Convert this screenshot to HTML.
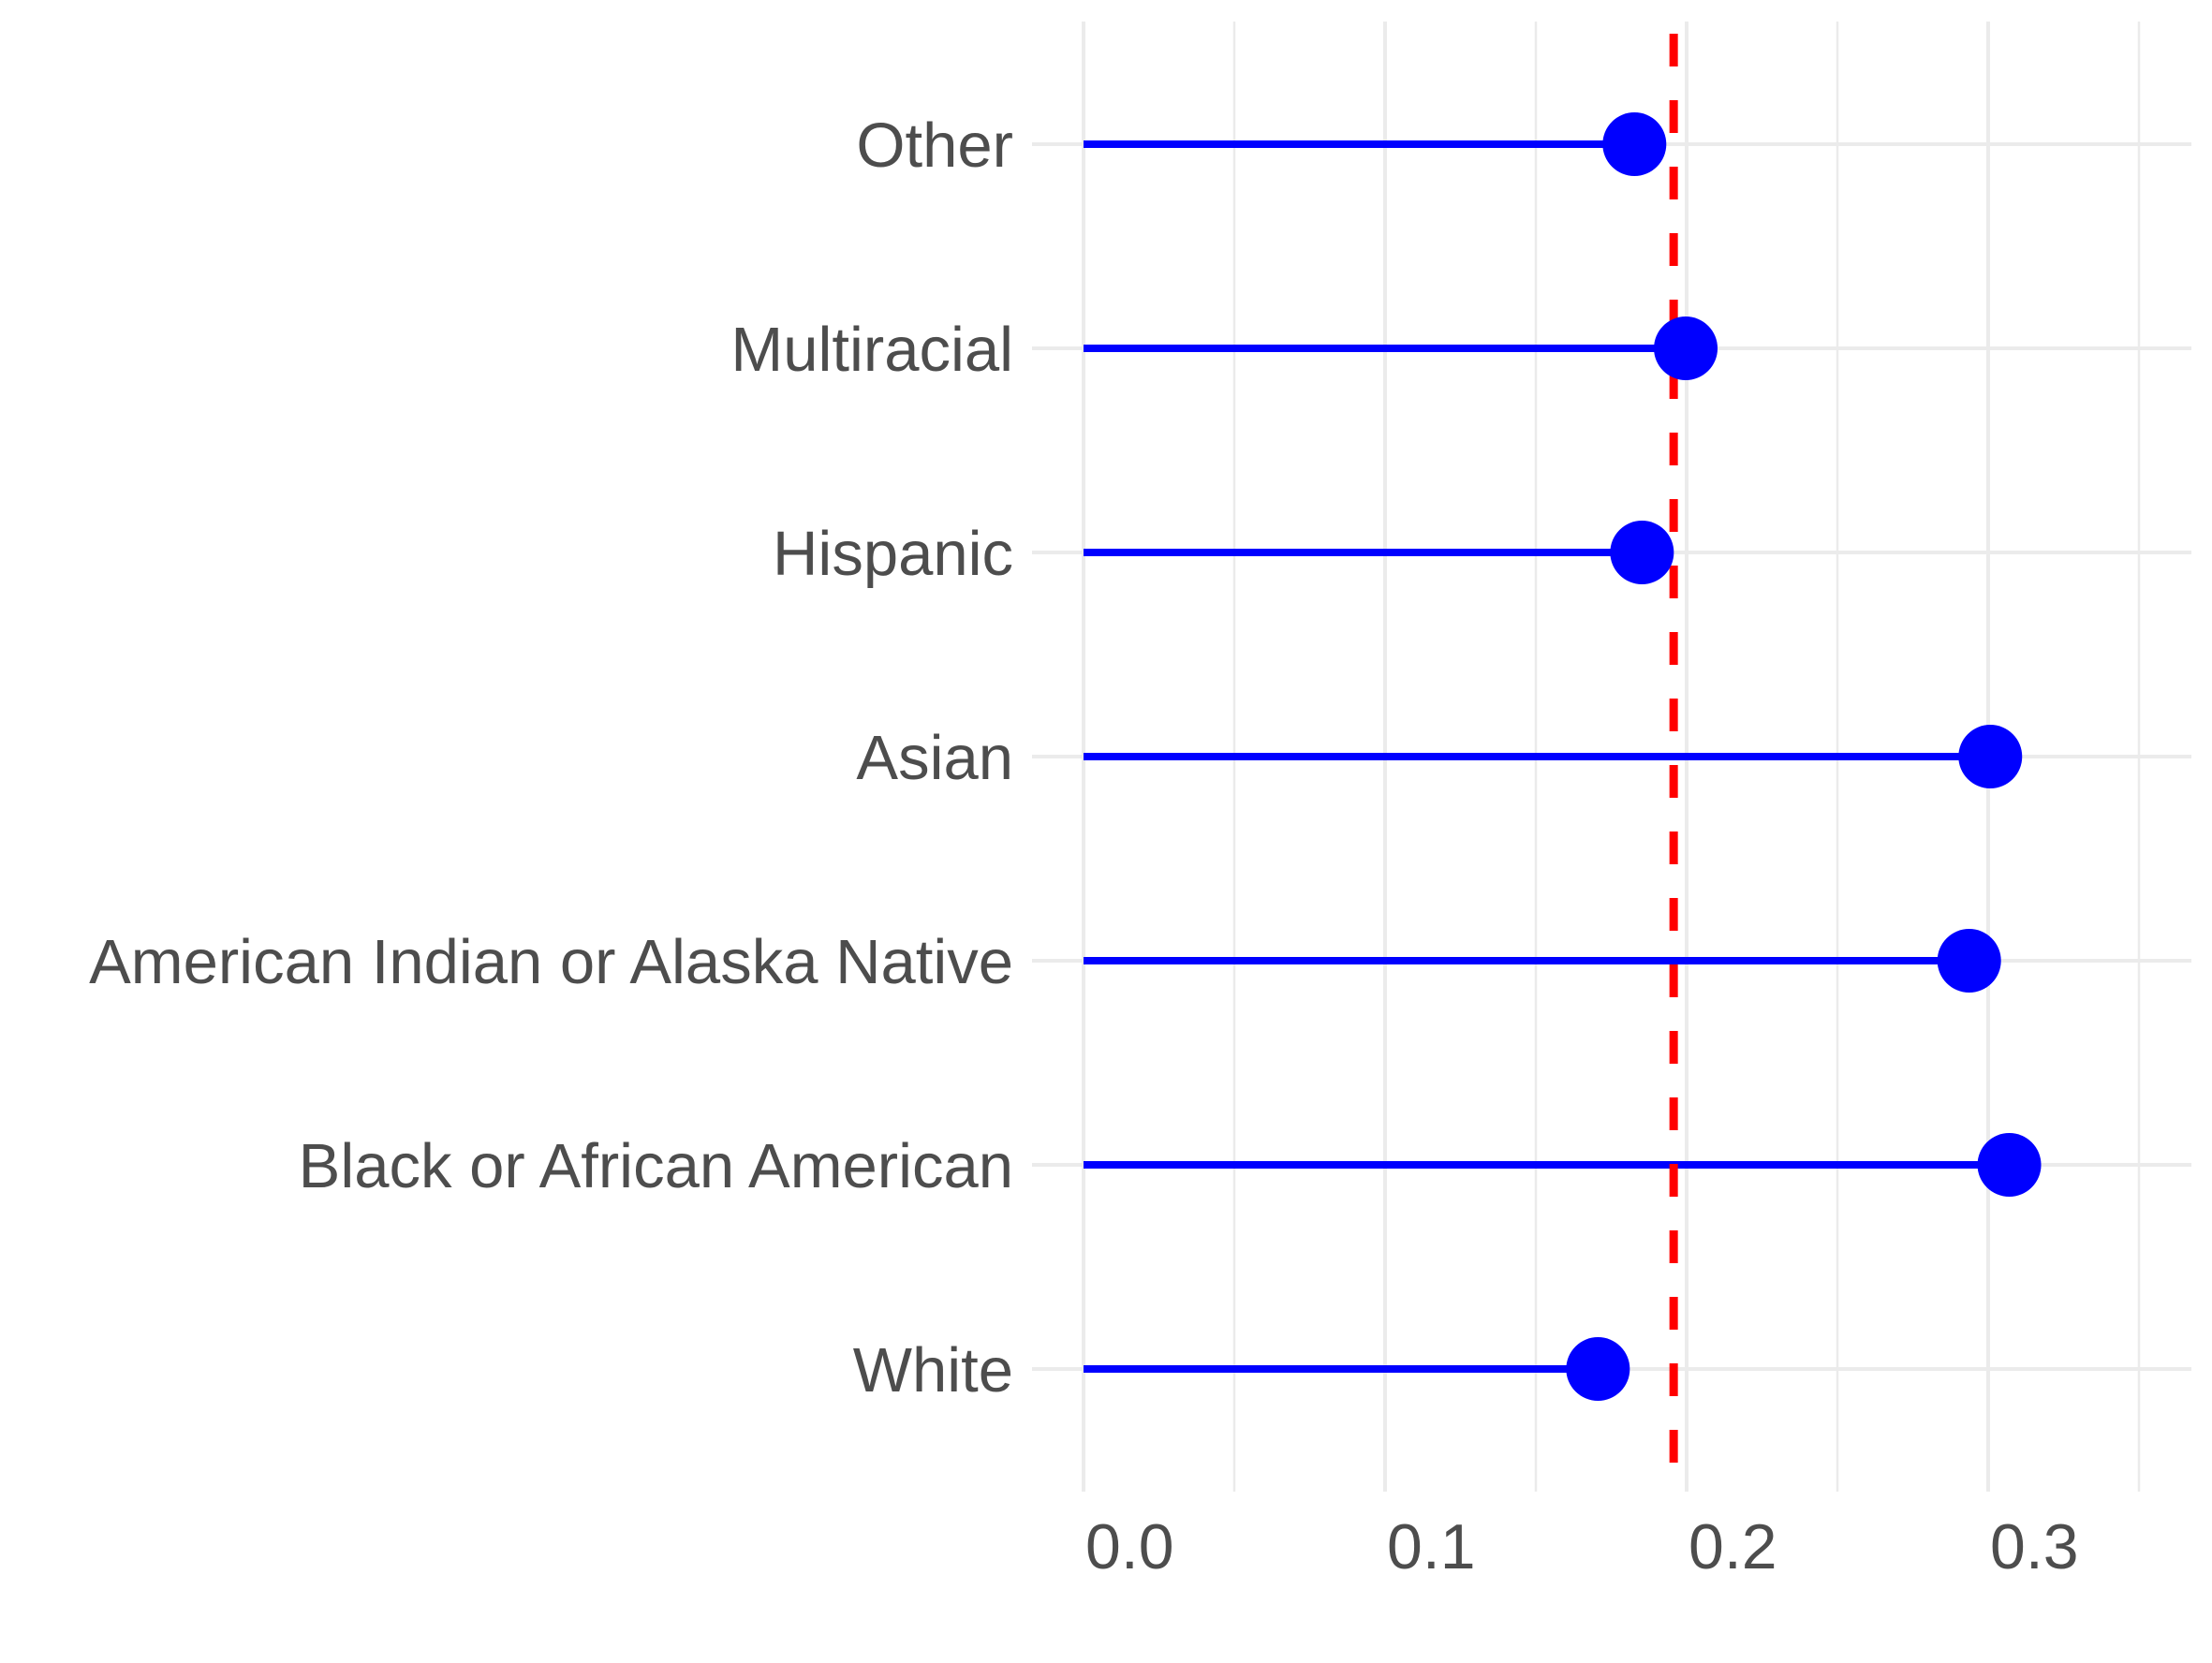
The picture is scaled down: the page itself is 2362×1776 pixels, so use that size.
<!DOCTYPE html>
<html><head><meta charset="utf-8"><style>
html,body{margin:0;padding:0;background:#fff;}
svg text{font-family:"Liberation Sans",sans-serif;fill:#4d4d4d;}
</style></head><body>
<svg id="chart" width="2362" height="1771" viewBox="0 0 2362 1771" xmlns="http://www.w3.org/2000/svg">
<g id="grid"></g>
<g id="marks"></g>
<g id="labels"></g>
</svg>
<script>
const categories = ["Other","Multiracial","Hispanic","Asian","American Indian or Alaska Native","Black or African American","White"];
const values = [0.1827,0.1997,0.1852,0.3007,0.2937,0.307,0.1706];
const refValue = [0.1957];
const xTicks = [0,0.1,0.2,0.3];
const xTickLabels = ["0.0","0.1","0.2","0.3"];
const xMinor = [0.05,0.15,0.25,0.35];

const NS="http://www.w3.org/2000/svg";
const X0=1157, XS=3220, plotTop=23, plotBottom=1593, rowTop=154, rowStep=218, gLeft=1102, gRight=2340;
const x=v=>X0+v*XS;
const y=i=>rowTop+i*rowStep;
function mk(tag,attrs,parent){const e=document.createElementNS(NS,tag);for(const k in attrs)e.setAttribute(k,attrs[k]);parent.appendChild(e);return e;}
const grid=document.getElementById('grid'),marks=document.getElementById('marks'),labels=document.getElementById('labels');

xMinor.forEach(v=>{
  const l=mk('line',{x1:x(v),x2:x(v),y1:plotTop,y2:plotBottom,stroke:'#ebebeb','stroke-width':2.5},grid);
  
  
});
xTicks.forEach((v,i)=>{
  const l=mk('line',{x1:x(v),x2:x(v),y1:plotTop,y2:plotBottom,stroke:'#ebebeb','stroke-width':4},grid);
  
  
  const t=mk('text',{x:x(v)+2,y:1675,'font-size':68},labels);
  t.textContent=xTickLabels[i];
  
  
});
categories.forEach((c,i)=>{
  const l=mk('line',{x1:gLeft,x2:gRight,y1:y(i),y2:y(i),stroke:'#ebebeb','stroke-width':4},grid);
  
  
  const t=mk('text',{x:1082,y:y(i)+24,'font-size':67,'text-anchor':'end'},labels);
  t.textContent=c;
  
  
});
categories.forEach((c,i)=>{
  const s=mk('line',{x1:x(0),x2:x(values[i]),y1:y(i),y2:y(i),stroke:'#0000ff','stroke-width':8},marks);
  
  
});
const r=mk('line',{x1:x(refValue[0]),x2:x(refValue[0]),y1:plotTop,y2:plotBottom,stroke:'#ff0000','stroke-width':9,'stroke-dasharray':'35 36','stroke-dashoffset':'-13'},marks);


categories.forEach((c,i)=>{
  const d=mk('circle',{cx:x(values[i]),cy:y(i),r:34,fill:'#0000ff'},marks);
  
  
});
</script>
</body></html>
